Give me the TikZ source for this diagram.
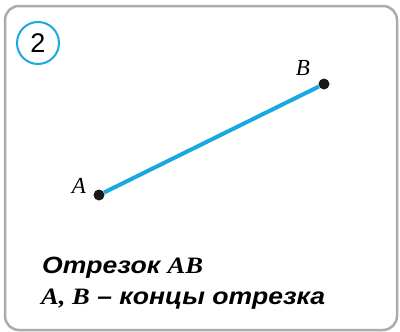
\documentclass[tikz,border=0pt]{standalone}
\usepackage{fontspec}
\setmainfont{Liberation Serif}
\setsansfont{Liberation Sans}
\newfontfamily\capsans[FakeStretch=1.13]{Liberation Sans}
\newfontfamily\capserif[FakeStretch=1.13]{Liberation Serif}
\usetikzlibrary{positioning}
\definecolor{segblue}{HTML}{1AA8E0}
\definecolor{framegray}{HTML}{ABABAB}

\begin{document}
\begin{tikzpicture}[
    x=1pt, y=-1pt,
    dot/.style={circle, fill=black!90, inner sep=0pt, minimum size=11pt},
    lbl/.style={inner sep=0pt, font=\fontsize{23}{25}\selectfont\itshape},
    caption/.style={anchor=base west, inner sep=0pt, font=\fontsize{23.5}{26}\selectfont\capsans\bfseries\itshape},
    seg/.style={segblue, line width=4pt}
]
    \useasboundingbox (0,0) rectangle (400,332);

    % Frame
    \draw[framegray, line width=2.5pt, rounded corners=14pt] (5,6) rectangle (397,330);

    % Number
    \node[circle, draw=segblue, line width=2pt, minimum size=42pt, inner sep=0pt,
          font=\fontsize{27}{27}\selectfont\sffamily] (num) at (38,43) {2};

    % Points
    \node[dot] (A) at (99,195) {};
    \node[dot] (B) at (324,84) {};
    \draw[seg] (A) -- (B);

    % Labels
    \node[lbl] (labA) at (79,186) {A};
    \node[lbl] (labB) at (303,68) {B};

    % Caption
    \node[caption] (cap1) at (42,273) {Отрезок {\capserif AB}};
    \node[caption] (cap2) at (41,304) {{\capserif A, B} – концы отрезка};
\end{tikzpicture}
\end{document}
